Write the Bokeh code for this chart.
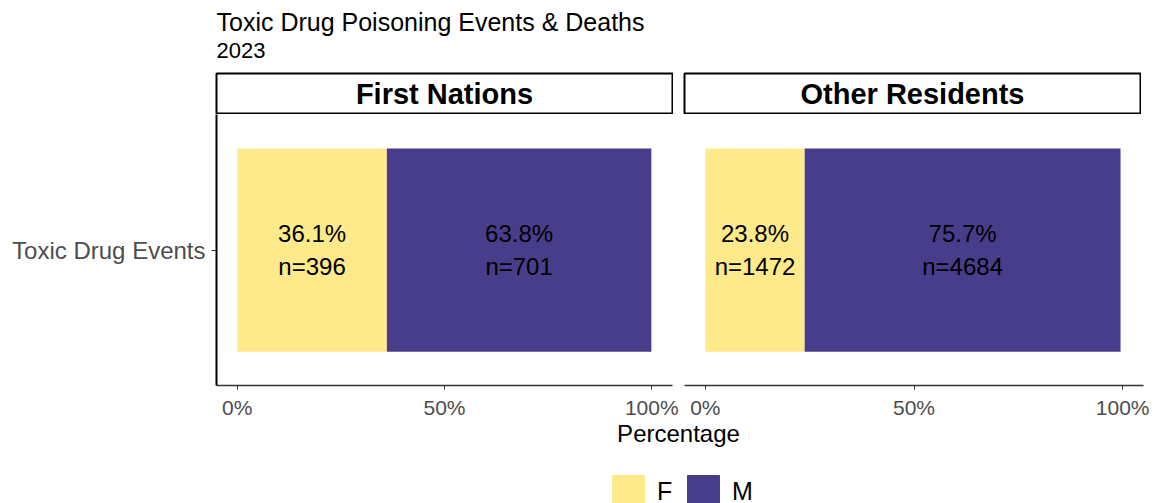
from bokeh.plotting import figure
from bokeh.layouts import column, row
from bokeh.models import (Range1d, FixedTicker, NumeralTickFormatter, Label, Legend,
                          LegendItem, Spacer, ColumnDataSource)
from bokeh.core.properties import value
from bokeh.core.validation import silence
from bokeh.core.validation.warnings import MISSING_RENDERERS
from bokeh.embed import file_html
from bokeh.resources import INLINE

silence(MISSING_RENDERERS, True)

# ---------------- data ----------------
title_text = "Toxic Drug Poisoning Events & Deaths"
subtitle_text = "2023"
groups = ["First Nations", "Other Residents"]
category = "Toxic Drug Events"
sexes = ["F", "M"]
pct_f = [36.1, 23.8]
pct_m = [63.8, 75.7]
n_f = [396, 1472]
n_m = [701, 4684]
x_ticks = [0, 0.5, 1.0]
x_title = "Percentage"
colors = {"F": "#FEE98B", "M": "#483D8B"}

FONT = "Liberation Sans"


def base_fig(**kw):
    return figure(toolbar_location=None, output_backend="svg", **kw)


def blank_fig(width, height, **kw):
    return base_fig(width=width, height=height, x_range=Range1d(0, 1), y_range=Range1d(0, 1),
                    x_axis_type=None, y_axis_type=None, **kw)


# ---------------- header ----------------
hdr = blank_fig(1155, 72, outline_line_color=None, min_border_left=0, min_border_right=0,
                min_border_top=0, min_border_bottom=0)
hdr.add_layout(Label(x=216, y=51, x_units="screen", y_units="screen", text=title_text,
                     text_font=FONT, text_font_size="25px", text_color="black",
                     text_baseline="middle"))
hdr.add_layout(Label(x=216, y=22, x_units="screen", y_units="screen", text=subtitle_text,
                     text_font=FONT, text_font_size="22px", text_color="black",
                     text_baseline="middle"))


# ---------------- strips ----------------
def make_strip(name):
    s = blank_fig(458, 42, min_border_left=1, min_border_right=1, min_border_top=1,
                  min_border_bottom=1, outline_line_color="black", outline_line_width=2)
    s.add_layout(Label(x=0.5, y=0.5, text=name, text_align="center", text_baseline="middle",
                       text_font=FONT, text_font_style="bold", text_font_size="29px",
                       text_color="black"))
    return s


strip_row = row(Spacer(width=215, height=42), make_strip(groups[0]),
                Spacer(width=10, height=42), make_strip(groups[1]))


# ---------------- panels ----------------
def make_panel(i, width, left, right, show_y):
    p = base_fig(width=width, height=307, x_range=Range1d(-0.05, 1.05), y_range=Range1d(0.4, 1.6),
                 min_border_left=left, min_border_right=right, min_border_top=0,
                 min_border_bottom=35, outline_line_color=None,
                 y_axis_location="left" if show_y else None)
    f = pct_f[i] / 100.0
    m = pct_m[i] / 100.0
    src = ColumnDataSource(dict(
        y=[1, 1], left=[0, f], right=[f, f + m],
        color=[colors["F"], colors["M"]],
        xc=[f / 2, f + m / 2],
        label=[f"{pct_f[i]}%\nn={n_f[i]}", f"{pct_m[i]}%\nn={n_m[i]}"],
    ))
    p.hbar(y="y", left="left", right="right", height=0.9, fill_color="color",
           line_color=None, source=src)
    p.text(x="xc", y="y", text="label", source=src, text_align="center",
           text_baseline="middle", text_font=value(FONT), text_font_size="24px",
           text_color="black", text_line_height=1.22)
    p.grid.visible = False
    ax = p.xaxis
    ax.ticker = FixedTicker(ticks=x_ticks)
    ax.formatter = NumeralTickFormatter(format="0%")
    ax.major_label_text_font = FONT
    ax.major_label_text_font_size = "21px"
    ax.major_label_text_color = "#4D4D4D"
    ax.axis_line_color = "#333333"
    ax.axis_line_width = 1.5
    ax.major_tick_line_color = "#333333"
    ax.major_tick_out = 4
    ax.major_tick_in = 0
    ax.minor_tick_line_color = None
    ax.major_label_standoff = 6
    if show_y:
        ay = p.yaxis
        ay.ticker = FixedTicker(ticks=[1])
        ay.major_label_overrides = {1: category}
        ay.major_label_text_font = FONT
        ay.major_label_text_font_size = "24px"
        ay.major_label_text_color = "#4D4D4D"
        ay.axis_line_color = "black"
        ay.axis_line_width = 2
        ay.major_tick_line_color = "#333333"
        ay.major_tick_out = 5
        ay.major_tick_in = 0
        ay.minor_tick_line_color = None
        ay.major_label_standoff = 6
    return p


p1 = make_panel(0, 680, 216, 8, True)
p2 = make_panel(1, 475, 4, 12, False)
panel_row = row(p1, p2)

# ---------------- bottom: axis title + legend ----------------
bot = blank_fig(1155, 82, outline_line_color=None, min_border_left=0, min_border_right=0,
                min_border_top=0, min_border_bottom=0)
bot.add_layout(Label(x=678, y=70, x_units="screen", y_units="screen", text=x_title,
                     text_align="center", text_baseline="middle",
                     text_font=FONT, text_font_size="24px", text_color="black"))
nan = float("nan")
items = []
for s in sexes:
    lsrc = ColumnDataSource(dict(l=[nan], r=[nan], t=[nan], b=[nan]))
    r = bot.quad(left="l", right="r", top="t", bottom="b", source=lsrc,
                 fill_color=colors[s], line_color=colors[s])
    items.append(LegendItem(label=s, renderers=[r]))
legend = Legend(items=items, orientation="horizontal", location=(608, -8),
                glyph_width=40, glyph_height=40, label_standoff=9, spacing=6,
                padding=0, margin=0, border_line_color=None, background_fill_alpha=0,
                label_text_font=FONT, label_text_font_size="25px", label_text_color="black")
bot.add_layout(legend)

layout = column(Spacer(width=1155, height=0), hdr, strip_row, panel_row, bot)

open("out.html", "w").write(file_html(layout, INLINE))
